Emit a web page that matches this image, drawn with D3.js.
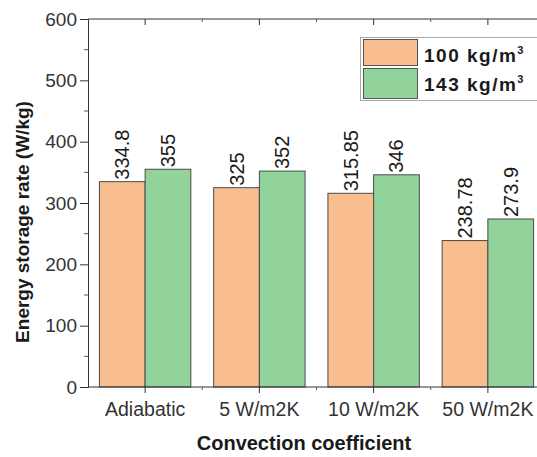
<!DOCTYPE html>
<html>
<head>
<meta charset="utf-8">
<script src="https://cdn.jsdelivr.net/npm/d3@7"></script>
<style>
  html, body { margin: 0; padding: 0; background: #fff; }
  svg { display: block; font-family: "Liberation Sans", Arial, sans-serif; }
</style>
</head>
<body>
<div id="chart"></div>
<script>
// Energy storage rate per convection condition, for two packing densities
const categories = ["Adiabatic", "5 W/m2K", "10 W/m2K", "50 W/m2K"];
const seriesNames = ["100 kg/m", "143 kg/m"];
const density100 = [334.8, 325, 315.85, 238.78];
const density143 = [355, 352, 346, 273.9];
const valueLabels100 = ["334.8", "325", "315.85", "238.78"];
const valueLabels143 = ["355", "352", "346", "273.9"];
const yTicks = [0, 100, 200, 300, 400, 500, 600];
const colors = ["#F8BE90", "#92D39B"];

const W = 537, H = 457;
const plotLeft = 88, plotTop = 19, plotBottom = 387, plotRight = 545;

const svg = d3.select("#chart").append("svg")
  .attr("width", W).attr("height", H);

const x = d3.scaleBand().domain(categories).range([plotLeft, plotRight])
  .paddingInner(0.2).paddingOuter(0.1);
const xSub = d3.scaleBand().domain([0, 1]).range([0, x.bandwidth()]);
const y = d3.scaleLinear().domain([0, 600]).range([plotBottom, plotTop]);

const rows = categories.map((c, i) => ({
  cat: c,
  vals: [
    { s: 0, v: density100[i], label: valueLabels100[i] },
    { s: 1, v: density143[i], label: valueLabels143[i] }
  ]
}));

// bars
const g = svg.append("g");
const groups = g.selectAll("g.grp").data(rows).join("g")
  .attr("transform", d => `translate(${x(d.cat)},0)`);
groups.selectAll("rect").data(d => d.vals).join("rect")
  .attr("x", d => xSub(d.s))
  .attr("y", d => y(d.v))
  .attr("width", xSub.bandwidth())
  .attr("height", d => y(0) - y(d.v))
  .attr("fill", d => colors[d.s])
  .attr("stroke", "#4a4a4a")
  .attr("stroke-width", 1);

// value labels, rotated above each bar
groups.selectAll("text").data(d => d.vals).join("text")
  .attr("transform", d => `translate(${xSub(d.s) + xSub.bandwidth() / 2 + 7},${y(d.v) - 2}) rotate(-90)`)
  .attr("text-anchor", "start")
  .attr("font-size", 20)
  .attr("fill", "#1a1a1a")
  .text(d => d.label);

// left axis
const yAxis = d3.axisLeft(y).tickValues(yTicks).tickSize(8).tickPadding(3).tickFormat(d3.format("d"));
const ya = svg.append("g").attr("transform", `translate(${plotLeft},0)`).call(yAxis);
ya.selectAll("text").attr("font-size", 19).attr("fill", "#333").attr("font-family", "Liberation Sans, Arial, sans-serif");
ya.select(".domain").attr("stroke", "#333");
ya.selectAll(".tick line").attr("stroke", "#333");
const yMinor = d3.range(50, 600, 100);
svg.append("g").selectAll("line").data(yMinor).join("line")
  .attr("x1", plotLeft - 4).attr("x2", plotLeft)
  .attr("y1", d => y(d)).attr("y2", d => y(d))
  .attr("stroke", "#555");

// bottom axis
const xAxis = d3.axisBottom(x).tickSize(6).tickPadding(9);
const xa = svg.append("g").attr("transform", `translate(0,${plotBottom})`).call(xAxis);
xa.select(".domain").attr("d", `M${plotLeft},0H${plotRight}`).attr("stroke", "#333");
xa.selectAll(".tick line").attr("stroke", "#333");
xa.selectAll("text").attr("font-size", 19.5).attr("fill", "#333").attr("font-family", "Liberation Sans, Arial, sans-serif");

// minor ticks between groups, bottom and top
const bounds = categories.slice(1).map(c => x(c) - x.step() * x.paddingInner() / 2);
svg.append("g").selectAll("line").data(bounds).join("line")
  .attr("x1", d => d).attr("x2", d => d)
  .attr("y1", plotBottom).attr("y2", plotBottom + 3)
  .attr("stroke", "#555");

// top frame with inward ticks
svg.append("line").attr("x1", plotLeft).attr("x2", plotRight).attr("y1", plotTop).attr("y2", plotTop).attr("stroke", "#333");
svg.append("g").selectAll("line").data(categories).join("line")
  .attr("x1", d => x(d) + x.bandwidth() / 2).attr("x2", d => x(d) + x.bandwidth() / 2)
  .attr("y1", plotTop).attr("y2", plotTop + 6).attr("stroke", "#333");
svg.append("g").selectAll("line").data(bounds).join("line")
  .attr("x1", d => d).attr("x2", d => d)
  .attr("y1", plotTop).attr("y2", plotTop + 3).attr("stroke", "#555");

// axis titles
svg.append("text")
  .attr("transform", `translate(29,222) rotate(-90)`)
  .attr("text-anchor", "middle")
  .attr("font-size", 19).attr("font-weight", "bold").attr("fill", "#1a1a1a")
  .text("Energy storage rate (W/kg)");
svg.append("text")
  .attr("x", 304).attr("y", 450)
  .attr("text-anchor", "middle")
  .attr("font-size", 20).attr("font-weight", "bold").attr("fill", "#1a1a1a")
  .text("Convection coefficient");

// legend
const lg = svg.append("g");
lg.append("rect").attr("x", 360.5).attr("y", 37.5).attr("width", 200).attr("height", 63)
  .attr("fill", "#fff").attr("stroke", "#aaa");
const lrows = [{ i: 0, y0: 39, h: 26, ty: 62 }, { i: 1, y0: 68, h: 30, ty: 91 }];
lg.selectAll("rect.sw").data(lrows).join("rect").attr("class", "sw")
  .attr("x", 363.5).attr("y", d => d.y0 + 0.5).attr("width", 54).attr("height", d => d.h)
  .attr("fill", d => colors[d.i]).attr("stroke", "#555");
const lt = lg.selectAll("text").data(lrows).join("text")
  .attr("x", 424).attr("y", d => d.ty)
  .attr("font-size", 19).attr("font-weight", "bold").attr("fill", "#1a1a1a")
  .attr("letter-spacing", 1.5);
lt.append("tspan").text(d => seriesNames[d.i]);
lt.append("tspan").attr("dy", -8).attr("font-size", 11).text("3");
</script>
</body>
</html>
